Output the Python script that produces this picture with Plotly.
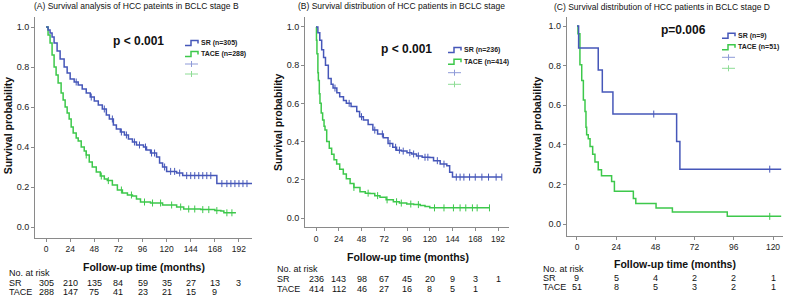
import plotly.graph_objects as go

W, H = 792, 296
BLUE = "#4657B9"
GREEN = "#3DC84B"
BLUE_L = "#8E9AD8"
GREEN_L = "#8EDC95"
FONT = "Liberation Sans, Arial, sans-serif"
AX = "#8a8a8a"

# ---------------- data ----------------
# Panel A: BCLC stage B
a_sr_t = [0, 2, 4, 6, 8, 11, 14, 18, 21, 24, 28, 32, 36, 40, 44, 48, 52, 56, 60, 63, 67, 70, 74, 78, 82, 86, 90, 97, 100, 104, 110, 113, 116, 120, 130, 136, 166, 170, 205]
a_sr_s = [1.0, 0.985, 0.97, 0.95, 0.92, 0.88, 0.84, 0.80, 0.77, 0.74, 0.725, 0.71, 0.69, 0.67, 0.65, 0.63, 0.61, 0.59, 0.56, 0.54, 0.51, 0.49, 0.475, 0.46, 0.44, 0.425, 0.41, 0.40, 0.385, 0.37, 0.35, 0.32, 0.30, 0.278, 0.27, 0.257, 0.257, 0.217, 0.217]
a_sr_cens = [30, 45, 58, 66, 75, 80, 88, 93, 99, 105, 108, 118, 124, 128, 133, 140, 144, 148, 152, 156, 160, 164, 175, 180, 184, 188, 192, 196, 200]
a_tace_t = [0, 2, 4, 6, 8, 10, 12, 15, 17, 19, 21, 23, 25, 27, 30, 32, 35, 38, 40, 43, 46, 50, 54, 58, 61, 66, 71, 76, 81, 86, 90, 94, 104, 111, 116, 121, 130, 137, 154, 168, 174, 177, 189]
a_tace_s = [1.0, 0.96, 0.92, 0.86, 0.80, 0.76, 0.72, 0.67, 0.635, 0.60, 0.57, 0.54, 0.50, 0.47, 0.445, 0.43, 0.40, 0.38, 0.36, 0.325, 0.30, 0.275, 0.255, 0.24, 0.232, 0.21, 0.185, 0.17, 0.16, 0.155, 0.14, 0.125, 0.12, 0.12, 0.11, 0.11, 0.10, 0.09, 0.087, 0.082, 0.08, 0.071, 0.071]
a_tace_cens = [40, 55, 62, 75, 85, 98, 106, 114, 125, 134, 142, 148, 156, 162, 170, 180, 185]

# Panel B
b_sr_t = [0, 2, 4, 6, 8, 10, 13, 16, 18, 22, 25, 29, 32, 37, 43, 46, 50, 55, 60, 65, 71, 76, 81, 85, 90, 96, 101, 106, 112, 120, 124, 131, 138, 141, 144, 196]
b_sr_s = [1.0, 0.97, 0.93, 0.88, 0.84, 0.80, 0.73, 0.70, 0.68, 0.655, 0.635, 0.615, 0.60, 0.583, 0.557, 0.53, 0.513, 0.49, 0.46, 0.44, 0.42, 0.39, 0.37, 0.355, 0.35, 0.342, 0.335, 0.325, 0.318, 0.316, 0.30, 0.282, 0.273, 0.24, 0.214, 0.214]
b_sr_cens = [20, 35, 48, 62, 70, 78, 84, 88, 92, 99, 103, 108, 115, 118, 128, 135, 148, 152, 156, 162, 168, 175, 182, 190, 196]
b_tace_t = [0, 0.5, 1, 2, 2.5, 3.5, 4.2, 5.5, 7, 8.5, 9.5, 11.3, 14, 16.5, 19, 21.8, 25, 28.8, 32, 36, 40, 46.4, 52, 57, 62, 67.5, 74, 81.6, 88, 95.7, 103, 110, 115, 120, 183.5]
b_tace_s = [1.0, 0.93, 0.86, 0.76, 0.72, 0.65, 0.60, 0.55, 0.513, 0.48, 0.46, 0.40, 0.365, 0.333, 0.305, 0.282, 0.255, 0.23, 0.205, 0.18, 0.16, 0.137, 0.13, 0.128, 0.117, 0.108, 0.095, 0.085, 0.078, 0.073, 0.07, 0.065, 0.06, 0.053, 0.053]
b_tace_cens = [40, 55, 65, 75, 85, 90, 100, 108, 125, 135, 145, 152, 158, 165, 170, 183]

# Panel C: BCLC stage D
c_sr_t = [0, 1, 13, 15.5, 22, 61, 63, 125]
c_sr_s = [1.0, 0.889, 0.778, 0.667, 0.556, 0.417, 0.278, 0.278]
c_sr_cens = [47, 118]
c_tace_t = [0, 0.6, 1.8, 2.9, 3.9, 4.9, 5.5, 5.9, 6.9, 8, 9.6, 11, 13, 15, 21.2, 22.9, 34.5, 36, 48.4, 58.4, 92, 125]
c_tace_s = [1.0, 0.961, 0.804, 0.725, 0.627, 0.569, 0.49, 0.451, 0.431, 0.392, 0.353, 0.314, 0.275, 0.245, 0.216, 0.167, 0.13, 0.105, 0.082, 0.062, 0.04, 0.04]
c_tace_cens = [118]

# risk tables
ab_risk_times = [0, 24, 48, 72, 96, 120, 144, 168, 192]
a_risk_sr = [305, 210, 135, 84, 59, 35, 27, 13, 3]
a_risk_tace = [288, 147, 75, 41, 23, 21, 15, 9]
b_risk_sr = [236, 143, 98, 67, 45, 20, 9, 3, 1]
b_risk_tace = [414, 112, 46, 27, 16, 8, 5, 1]
c_risk_times = [0, 24, 48, 72, 96, 120]
c_risk_sr = [9, 5, 4, 2, 2, 1]
c_risk_tace = [51, 8, 5, 3, 2, 1]

y_ticks = [0.0, 0.2, 0.4, 0.6, 0.8, 1.0]


def X(px):
    return px / W


def Y(py):
    return 1 - py / H


def surv_at(t, times, surv):
    v = surv[0]
    for tt, ss in zip(times, surv):
        if tt <= t:
            v = ss
    return v


fig = go.Figure()

panels = [
    dict(ax="", sr=(a_sr_t, a_sr_s, a_sr_cens), tace=(a_tace_t, a_tace_s, a_tace_cens),
         xdom=[X(35), X(252)], ydom=[Y(238), Y(17)], xr=[-11, 205], yr=[-0.055, 1.05],
         xt=ab_risk_times, rt=ab_risk_times, rsr=a_risk_sr, rtace=a_risk_tace,
         title="(A) Survival analysis of HCC pateints in BCLC stage B", tx=136, ty=6, tanchor="center",
         ytx=8.3, yty=125, xtx=144, xty=267, risk_x=6.7, risk_y=(273, 282.7, 291.7),
         p="p < 0.001", px=(138, 40.5), leg_x=185, leg_y=(43, 54, 64, 74),
         lab_sr="SR (n=305)", lab_tace="TACE (n=288)"),
    dict(ax="2", sr=(b_sr_t, b_sr_s, b_sr_cens), tace=(b_tace_t, b_tace_s, b_tace_cens),
         xdom=[X(305), X(509)], ydom=[Y(227.3), Y(17)], xr=[-11.6, 203.6], yr=[-0.0487, 1.052],
         xt=ab_risk_times, rt=ab_risk_times, rsr=b_risk_sr, rtace=b_risk_tace,
         title="(B) Survival distribution of HCC patients in BCLC stage", tx=296, ty=6.5, tanchor="left",
         ytx=278, yty=122, xtx=408, xty=257.3, risk_x=275, risk_y=(269.3, 279.3, 289),
         p="p < 0.001", px=(406, 49.5), leg_x=448, leg_y=(50, 61.7, 72.7, 84.3),
         lab_sr="SR (n=236)", lab_tace="TACE (n=414)"),
    dict(ax="3", sr=(c_sr_t, c_sr_s, c_sr_cens), tace=(c_tace_t, c_tace_s, c_tace_cens),
         xdom=[X(566.7), X(783.3)], ydom=[Y(235.7), Y(17)], xr=[-6.3, 126.3], yr=[-0.0575, 1.0454],
         xt=c_risk_times, rt=c_risk_times, rsr=c_risk_sr, rtace=c_risk_tace,
         title="(C) Survival distribution of HCC patients in BCLC stage D", tx=552, ty=7.5, tanchor="left",
         ytx=537, yty=125, xtx=675, xty=263.7, risk_x=540.7, risk_y=(269.3, 278.3, 287.3),
         p="p=0.006", px=(683.5, 30), leg_x=722, leg_y=(35.7, 47.3, 57.3, 68.3),
         lab_sr="SR (n=9)", lab_tace="TACE (n=51)"),
]

annotations = []
shapes = []

for P in panels:
    xa = "x" + P["ax"]
    ya = "y" + P["ax"]
    for (t, s, c), col in ((P["tace"], GREEN), (P["sr"], BLUE)):
        fig.add_trace(go.Scatter(x=t, y=s, mode="lines", line=dict(color=col, width=1.5, shape="hv"),
                                 xaxis=xa, yaxis=ya, showlegend=False, hoverinfo="skip"))
        fig.add_trace(go.Scatter(x=c, y=[surv_at(ci, t, s) for ci in c], mode="markers",
                                 marker=dict(symbol="line-ns", size=5, line=dict(color=col, width=1)),
                                 xaxis=xa, yaxis=ya, showlegend=False, hoverinfo="skip"))
    axis_common = dict(showline=True, linecolor=AX, linewidth=1, ticks="outside", ticklen=3,
                       tickcolor=AX, showgrid=False, zeroline=False, fixedrange=True)
    fig.layout["xaxis" + P["ax"]] = dict(domain=P["xdom"], range=P["xr"], anchor=ya, tickvals=P["xt"],
                                        tickfont=dict(size=8.5, color="#222", family=FONT), **axis_common)
    fig.layout["yaxis" + P["ax"]] = dict(domain=P["ydom"], range=P["yr"], anchor=xa, tickvals=y_ticks,
                                        tickformat=".1f", tickfont=dict(size=9, color="#222", family=FONT),
                                        **axis_common)
    annotations.append(dict(text=P["title"], x=X(P["tx"]), y=Y(P["ty"]), xref="paper", yref="paper",
                            xanchor=P["tanchor"], yanchor="middle", showarrow=False,
                            font=dict(size=8.5, color="#111", family=FONT)))
    annotations.append(dict(text="<b>Survival probability</b>", x=X(P["ytx"]), y=Y(P["yty"]), xref="paper",
                            yref="paper", textangle=-90, xanchor="center", yanchor="middle", showarrow=False,
                            font=dict(size=10.5, color="#111", family=FONT)))
    annotations.append(dict(text="<b>Follow-up time (months)</b>", x=X(P["xtx"]), y=Y(P["xty"]), xref="paper",
                            yref="paper", xanchor="center", yanchor="middle", showarrow=False,
                            font=dict(size=10.5, color="#111", family=FONT)))
    annotations.append(dict(text="<b>" + P["p"] + "</b>", x=X(P["px"][0]), y=Y(P["px"][1]), xref="paper",
                            yref="paper", xanchor="center", yanchor="middle", showarrow=False,
                            font=dict(size=12, color="#111", family=FONT)))
    ry = P["risk_y"]
    for lab, yy in (("No. at risk", ry[0]), ("SR", ry[1]), ("TACE", ry[2])):
        annotations.append(dict(text=lab, x=X(P["risk_x"]), y=Y(yy), xref="paper", yref="paper",
                                xanchor="left", yanchor="middle", showarrow=False,
                                font=dict(size=9, color="#111", family=FONT)))
    for vals, yy in ((P["rsr"], ry[1]), (P["rtace"], ry[2])):
        for tt, v in zip(P["rt"], vals):
            annotations.append(dict(text=str(v), x=tt, y=Y(yy), xref=xa, yref="paper",
                                    xanchor="center", yanchor="middle", showarrow=False,
                                    font=dict(size=9, color="#111", family=FONT)))
    lx = P["leg_x"]
    ly = P["leg_y"]
    for col, yy, lab in ((BLUE, ly[0], P["lab_sr"]), (GREEN, ly[1], P["lab_tace"])):
        path = "M {} {} L {} {} L {} {} L {} {} L {} {}".format(
            X(lx), Y(yy + 2.5), X(lx + 6), Y(yy + 2.5), X(lx + 6), Y(yy - 2.5), X(lx + 13), Y(yy - 2.5),
            X(lx + 13), Y(yy + 0.5))
        shapes.append(dict(type="path", path=path, xref="paper", yref="paper",
                           line=dict(color=col, width=1.5)))
        annotations.append(dict(text="<b>" + lab + "</b>", x=X(lx + 14), y=Y(yy), xref="paper", yref="paper",
                                xanchor="left", yanchor="middle", showarrow=False,
                                font=dict(size=7, color="#222", family=FONT)))
    for col, yy in ((BLUE_L, ly[2]), (GREEN_L, ly[3])):
        shapes.append(dict(type="line", x0=X(lx), x1=X(lx + 13), y0=Y(yy), y1=Y(yy), xref="paper",
                           yref="paper", line=dict(color=col, width=1)))
        shapes.append(dict(type="line", x0=X(lx + 6.5), x1=X(lx + 6.5), y0=Y(yy - 3), y1=Y(yy + 3),
                           xref="paper", yref="paper", line=dict(color=col, width=1)))

fig.update_layout(width=W, height=H, margin=dict(l=0, r=0, t=0, b=0), paper_bgcolor="white",
                  plot_bgcolor="white", showlegend=False, annotations=annotations, shapes=shapes,
                  font=dict(family=FONT))

fig.write_html("out.html", config={"displayModeBar": False},
               post_script="document.body.style.margin='0';document.body.style.overflow='hidden';")
